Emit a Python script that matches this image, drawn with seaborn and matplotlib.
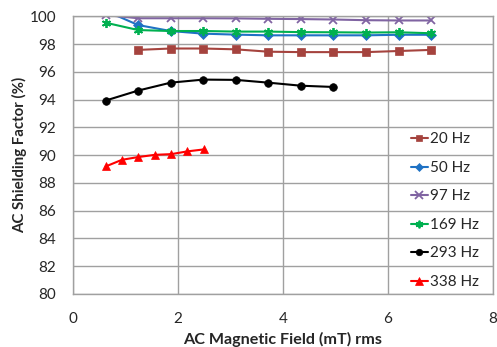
import matplotlib
matplotlib.use("Agg")
import matplotlib.pyplot as plt
import seaborn as sns
import pandas as pd

x_full = [0.62, 1.24, 1.86, 2.48, 3.10, 3.72, 4.34, 4.96, 5.58, 6.20, 6.82]
x_20 = x_full[1:]
y_20 = [97.58, 97.68, 97.68, 97.62, 97.45, 97.42, 97.42, 97.42, 97.5, 97.58]
y_50 = [100.4, 99.37, 98.94, 98.75, 98.68, 98.63, 98.63, 98.63, 98.63, 98.67, 98.67]
y_97 = [100.09, 99.86, 99.86, 99.86, 99.85, 99.82, 99.80, 99.77, 99.72, 99.70, 99.70]
y_169 = [99.54, 99.01, 98.94, 98.94, 98.9, 98.9, 98.86, 98.85, 98.83, 98.85, 98.78]
x_293 = x_full[:8]
y_293 = [93.93, 94.65, 95.22, 95.44, 95.42, 95.22, 95.0, 94.91]
x_338 = [0.62, 0.93, 1.24, 1.56, 1.87, 2.18, 2.49]
y_338 = [89.18, 89.66, 89.86, 90.02, 90.07, 90.27, 90.41]

labels = ["20 Hz", "50 Hz", "97 Hz", "169 Hz", "293 Hz", "338 Hz"]
xs = [x_20, x_full, x_full, x_full, x_293, x_338]
ys = [y_20, y_50, y_97, y_169, y_293, y_338]
colors = ["#A5433E", "#1F72C4", "#8064A2", "#00B050", "#000000", "#FF0000"]
markers = ["s", "D", "x", (6, 2, 0), "o", "^"]
msizes = [5.5, 5, 6, 6.5, 5.5, 6]

sns.set_theme(style="white")
plt.rcParams['font.family'] = ['Lato', 'DejaVu Sans']

fig = plt.figure(figsize=(4.97, 3.47), dpi=100)
ax = fig.add_axes([0.147, 0.153, 0.845, 0.80])

for lab, xx, yy, c, m, ms in zip(labels, xs, ys, colors, markers, msizes):
    df = pd.DataFrame({"x": xx, "y": yy})
    sns.lineplot(data=df, x="x", y="y", ax=ax, color=c, marker=m, markersize=ms,
                 markeredgecolor=c,
                 markeredgewidth=1.3 if m in ("x", (6, 2, 0)) else 0.5,
                 linewidth=1.5, label=lab, sort=False)

ax.set_xlim(0, 8)
ax.set_ylim(80, 100)
ax.set_xticks([0, 2, 4, 6, 8])
ax.set_yticks(range(80, 101, 2))
ax.grid(True, color="#A0A0A0", linewidth=1.0)
for s in ax.spines.values():
    s.set_color("#A0A0A0")
    s.set_linewidth(1.0)
ax.tick_params(axis="x", labelsize=11, length=0, pad=13)
ax.tick_params(axis="y", labelsize=11, length=0, pad=12)
ax.set_xlabel("AC Magnetic Field (mT) rms", fontsize=11.6, fontweight="bold", labelpad=4)
ax.set_ylabel("AC Shielding Factor (%)", fontsize=10.8, fontweight="bold", labelpad=2)

leg = ax.legend(loc="center left", bbox_to_anchor=(0.79, 0.30), frameon=False,
                fontsize=11, handlelength=1.1, handletextpad=0.15, labelspacing=0.95,
                borderaxespad=0, markerscale=0.85)

fig.savefig("out.png", dpi=100)
